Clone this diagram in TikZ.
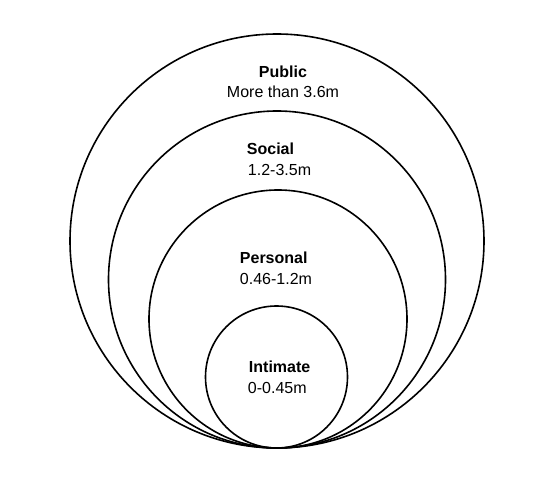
\documentclass[tikz,border=0pt]{standalone}
\usepackage{fontspec}
\setmainfont{Liberation Sans}
\usepackage{xcolor}

\begin{document}
\begin{tikzpicture}[x=1pt,y=1pt,yscale=-1,xscale=1]
		\path[use as bounding box] (0,0) rectangle (558,489);
		
		%Shape: Circle [id:public]
		\draw  [line width=1.6] (277,241) circle [radius=207] ;
		%Shape: Circle [id:social]
		\draw  [line width=1.6] (277,279.5) circle [radius=168.5] ;
		%Shape: Circle [id:personal]
		\draw  [line width=1.6] (278,319) circle [radius=129] ;
		%Shape: Circle [id:intimate]
		\draw  [line width=1.6] (276.5,377) circle [radius=71] ;
		
		% Text Node
		\draw (283,77.3) node (publicT) [anchor=base][inner sep=0.75pt]  {\fontsize{16}{19}\selectfont\bfseries Public};
		% Text Node
		\draw (283,98) node (publicD) [anchor=base][inner sep=0.75pt]  {\fontsize{16}{19}\selectfont More than 3.6m};
		% Text Node
		\draw (246,155) node (socialT) [anchor=base west][inner sep=0.75pt]  {\fontsize{16}{19}\selectfont\bfseries Social};
		% Text Node
		\draw (247,175.7) node (socialD) [anchor=base west][inner sep=0.75pt]  {\fontsize{16}{19}\selectfont 1.2-3.5m};
		% Text Node
		\draw (239,264) node (personalT) [anchor=base west][inner sep=0.75pt]  {\fontsize{16}{19}\selectfont\bfseries Personal};
		% Text Node
		\draw (239,285) node (personalD) [anchor=base west][inner sep=0.75pt]  {\fontsize{16}{19}\selectfont 0.46-1.2m};
		% Text Node
		\draw (248,372.7) node (intimateT) [anchor=base west][inner sep=0.75pt]  {\fontsize{16}{19}\selectfont\bfseries Intimate};
		% Text Node
		\draw (247,394) node (intimateD) [anchor=base west][inner sep=0.75pt]  {\fontsize{16}{19}\selectfont 0-0.45m};
		
\end{tikzpicture}
\end{document}
